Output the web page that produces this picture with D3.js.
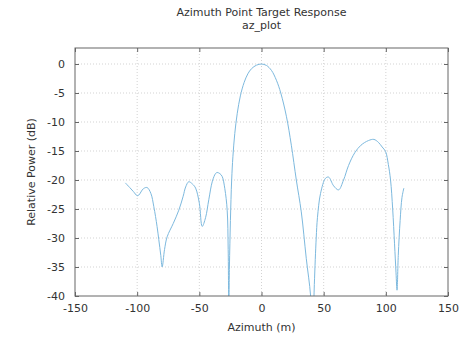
<!DOCTYPE html>
<html><head><meta charset="utf-8">
<script src="https://cdn.jsdelivr.net/npm/d3@7"></script>
<style>body{margin:0;background:#fff}svg text{font-family:"DejaVu Sans",sans-serif;fill:#333}</style>
</head><body><svg id="c" width="461" height="338"></svg>
<script>
const azimuth = [-109.5,-106,-103,-100,-98.7,-95,-92,-89,-86.6,-84,-82.6,-81,-79.9,-78,-75.9,-71,-66.5,-63,-61,-58.5,-55.5,-53,-50,-47.7,-45,-42.4,-39.5,-37,-35.7,-33.5,-31.6,-29.5,-27.6,-26.8,-26.3,-25.8,-25,-24,-23,-21.5,-19.5,-17,-14,-11,-8,-4,0,4,8,12,15.5,20,24,28,32,36,39.5,41,42.5,44,45,47.5,51.5,54,58,62,66,70,75,80,86,90.4,94,97,99.8,102,103.8,105.5,107,108.2,109,110,111.5,113,114.5];
const power =   [-20.5,-21.3,-22,-22.7,-22.6,-21.5,-21.3,-22.3,-24.6,-28,-30.3,-33,-35,-32,-29.8,-27.5,-25.2,-22.8,-21.2,-20.3,-20.7,-21.4,-24,-28,-26.5,-23.4,-20.2,-18.9,-18.7,-18.9,-19.4,-21.5,-25.2,-32,-42,-35,-27,-20,-16,-12,-8.5,-5.5,-3.2,-1.7,-0.8,-0.2,0,-0.25,-1.1,-2.8,-5,-9,-14,-20,-25.5,-33.5,-40,-48,-38,-30,-26.5,-22.3,-19.7,-19.5,-21,-21.7,-20,-17.5,-15.3,-14,-13.2,-13,-13.5,-14.3,-15.1,-17.3,-20,-25,-31,-36,-39,-33,-27,-23,-21.4];
const xTicks = [-150,-100,-50,0,50,100,150];
const yTicks = [0,-5,-10,-15,-20,-25,-30,-35,-40];
const titleText = "Azimuth Point Target Response";
const subtitleText = "az_plot";
const xLabel = "Azimuth (m)";
const yLabel = "Relative Power (dB)";

const svg = d3.select("#c");
const L=75, R=448, T=48, B=296;
const x = d3.scaleLinear().domain([-150,150]).range([L,R]);
const y = d3.scaleLinear().domain([-40,2.76]).range([B,T]);
const fmt = d => String(d);

svg.append("defs").append("clipPath").attr("id","clip").append("rect")
  .attr("x",L).attr("y",T).attr("width",R-L).attr("height",B-T);

// grid
const g = svg.append("g");
g.selectAll(".gx").data(xTicks.slice(1,-1)).join("line")
  .attr("x1",d=>x(d)).attr("x2",d=>x(d)).attr("y1",T).attr("y2",B)
  .attr("stroke","#c8c8c8").attr("stroke-width",0.8).attr("stroke-dasharray","1,2");
g.selectAll(".gy").data(yTicks.slice(0,-1)).join("line")
  .attr("x1",L).attr("x2",R).attr("y1",d=>y(d)).attr("y2",d=>y(d))
  .attr("stroke","#c8c8c8").attr("stroke-width",0.8).attr("stroke-dasharray","1,2");

// line
const pts = azimuth.map((a,i)=>[a,power[i]]);
svg.append("path").datum(pts).attr("clip-path","url(#clip)")
  .attr("fill","none").attr("stroke","#7db9de").attr("stroke-width",1)
  .attr("d", d3.line().x(d=>x(d[0])).y(d=>y(d[1])).curve(d3.curveCatmullRom.alpha(0.5)));

// axes
const fs = 11;
const ax = svg.append("g").attr("transform",`translate(0,${B})`)
  .call(d3.axisBottom(x).tickValues(xTicks).tickSize(-4).tickPadding(8).tickFormat(fmt));
const axT = svg.append("g").attr("transform",`translate(0,${T})`)
  .call(d3.axisTop(x).tickValues(xTicks).tickSize(-4).tickFormat(""));
const ay = svg.append("g").attr("transform",`translate(${L},0)`)
  .call(d3.axisLeft(y).tickValues(yTicks).tickSize(-4).tickPadding(10).tickFormat(fmt));
const ayR = svg.append("g").attr("transform",`translate(${R},0)`)
  .call(d3.axisRight(y).tickValues(yTicks).tickSize(-4).tickFormat(""));
[ax,axT,ay,ayR].forEach(a=>{
  a.select(".domain").remove();
  a.selectAll("line").attr("stroke","#666");
  a.selectAll("text").attr("font-size",fs).attr("fill","#333").attr("font-family","DejaVu Sans, sans-serif");
});
svg.append("rect").attr("x",L).attr("y",T).attr("width",R-L).attr("height",B-T)
  .attr("fill","none").attr("stroke","#666").attr("stroke-width",1);

// titles
svg.append("text").attr("x",(L+R)/2).attr("y",16).attr("text-anchor","middle").attr("font-size",11).text(titleText);
svg.append("text").attr("x",(L+R)/2).attr("y",29).attr("text-anchor","middle").attr("font-size",11).text(subtitleText);
svg.append("text").attr("x",(L+R)/2).attr("y",331).attr("text-anchor","middle").attr("font-size",11).text(xLabel);
svg.append("text").attr("transform",`translate(35,${(T+B)/2}) rotate(-90)`).attr("text-anchor","middle").attr("font-size",11).text(yLabel);
</script></body></html>
